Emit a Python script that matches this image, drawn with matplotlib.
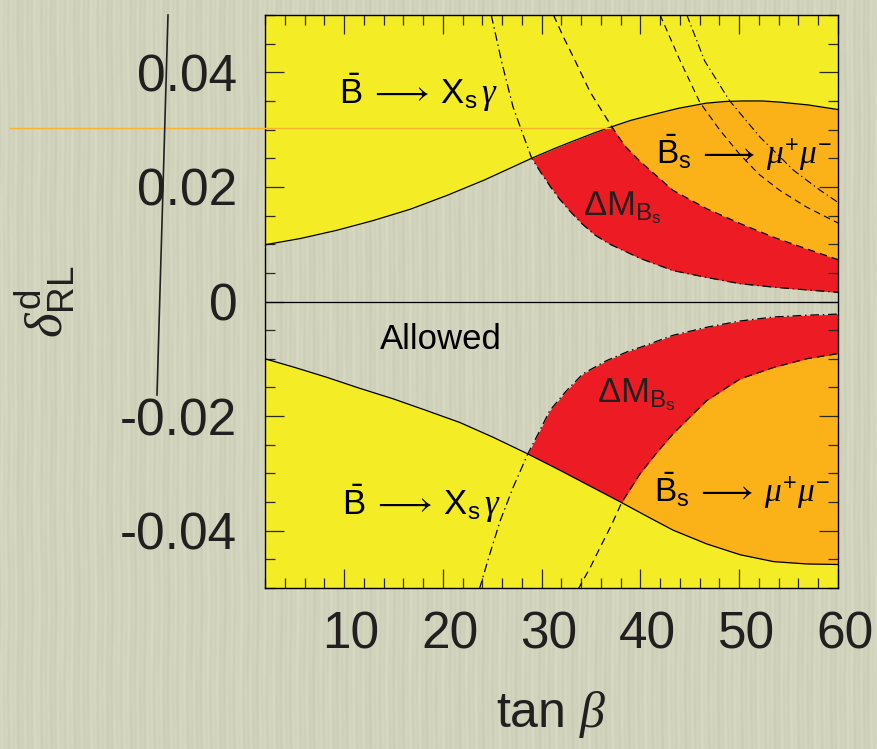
import numpy as np
import matplotlib.pyplot as plt
import matplotlib.transforms as mtransforms
from matplotlib.lines import Line2D
from matplotlib.ticker import MultipleLocator

plt.rcParams['font.family'] = ['Liberation Sans', 'DejaVu Sans']
plt.rcParams['mathtext.fontset'] = 'custom'
plt.rcParams['mathtext.rm'] = 'Liberation Sans'
plt.rcParams['mathtext.it'] = 'Liberation Serif:italic'
plt.rcParams['mathtext.bf'] = 'Liberation Sans:bold'
plt.rcParams['mathtext.fallback'] = 'stix'

# --- curves (tan beta, delta_RL^d) ---
# B -> Xs gamma bound, upper half (solid)
tanb_su = [2.0, 5.6, 9.2, 12.9, 16.7, 20.4, 24.2, 26.6, 29.0, 31.3, 33.5, 35.3, 37.1,
           39.0, 41.0, 43.8, 46.6, 48.5, 50.4, 52.3, 54.1, 57.0, 60.0]
delta_su = [0.0099, 0.0110, 0.0124, 0.0141, 0.0161, 0.0185, 0.0212, 0.0231, 0.0250,
            0.0267, 0.0282, 0.0294, 0.0305, 0.0316, 0.0325, 0.0337, 0.0346, 0.0349,
            0.0350, 0.0350, 0.0348, 0.0343, 0.0335]
# B -> Xs gamma bound, lower half (solid)
tanb_sl = [2, 5, 8.2, 11.5, 15, 18.3, 21.7, 25.1, 28.6, 31.8, 35, 38.1, 41, 43.3,
           46.7, 50.1, 53.5, 56.8, 60]
delta_sl = [-0.0100, -0.0115, -0.0132, -0.0151, -0.0170, -0.0190, -0.0211, -0.0237,
            -0.0266, -0.0294, -0.0323, -0.0351, -0.0378, -0.0399, -0.0423, -0.0442,
            -0.0454, -0.0458, -0.0459]
# Delta M_Bs bound, dash-dot, upper half
tanb_au = [24.9, 26.0, 27.1, 28.1, 29.0, 30.0, 30.9, 31.8, 32.8, 34.0, 35.4, 36.9,
           38.4, 40.0, 43.3, 46.7, 50.1, 53.5, 57.0, 60.0]
delta_au = [0.0500, 0.0415, 0.0340, 0.0292, 0.0250, 0.0223, 0.0200, 0.0179, 0.0159,
            0.0137, 0.0116, 0.0100, 0.0088, 0.0075, 0.0054, 0.0042, 0.0031, 0.0025,
            0.0020, 0.0016]
# Delta M_Bs bound, dashed, upper half
tanb_bu = [31.2, 32.2, 33.2, 34.9, 37.1, 38.4, 40.0, 43.3, 46.7, 50.1, 53.5, 56.8, 60.0]
delta_bu = [0.0500, 0.0462, 0.0427, 0.0366, 0.0305, 0.0272, 0.0244, 0.0194, 0.0162,
            0.0136, 0.0112, 0.0092, 0.0073]
# Delta M_Bs bound, dash-dot, lower half
tanb_al = [23.7, 24.75, 25.8, 27.1, 28.6, 29.8, 30.8, 32.5, 34.2, 36.6, 38.9, 40.0,
           43.3, 46.7, 50.1, 53.5, 56.8, 60.0]
delta_al = [-0.0502, -0.0441, -0.0383, -0.0325, -0.0266, -0.0226, -0.0191, -0.0156,
            -0.0126, -0.0103, -0.0086, -0.0080, -0.0059, -0.0045, -0.0034, -0.0027,
            -0.0024, -0.0022]
# Delta M_Bs bound, dashed, lower half
tanb_bl = [33.7, 34.9, 35.9, 37.1, 38.1, 39.95, 41.6, 43.3, 46.7, 50.1, 53.5, 56.8, 60.0]
delta_bl = [-0.0502, -0.0465, -0.0430, -0.0389, -0.0351, -0.0301, -0.0265, -0.0231,
            -0.0173, -0.0135, -0.0115, -0.0100, -0.0091]
# Bs -> mu mu curves, upper right
tanb_c = [42.0, 44.0, 46.0, 48.0, 50.0, 52.0, 54.1, 56.8, 60.0]
delta_c = [0.0500, 0.0421, 0.0348, 0.0300, 0.0258, 0.0222, 0.0194, 0.0165, 0.0137]
tanb_d = [44.7, 46.5, 49.0, 52.1, 55.5, 58.2, 60.0]
delta_d = [0.0500, 0.0420, 0.0351, 0.0287, 0.0229, 0.0194, 0.0173]

xtick_vals = [10, 20, 30, 40, 50, 60]
xtick_labels = ['10', '20', '30', '40', '50', '60']
ytick_vals = [-0.04, -0.02, 0, 0.02, 0.04]
ytick_labels = ['-0.04', '-0.02', '0', '0.02', '0.04']

bg = '#d3d4bc'
yellow = '#f4ec24'
red = '#ed1c24'
orange = '#fbb218'

W, H = 877, 749
fig = plt.figure(figsize=(W / 100, H / 100), dpi=100)
fig.patch.set_facecolor(bg)

# paper-like vertical streaks behind everything
yy, xx = np.mgrid[0:H, 0:W]
streak = (3 * np.sin(2 * np.pi * xx / 4.7 + 0.6 * np.sin(2 * np.pi * yy / 160))
          + 2.5 * np.sin(2 * np.pi * xx / 11.3 + 0.8 * np.sin(2 * np.pi * yy / 230 + 1.0))
          + 1.5 * np.sin(2 * np.pi * xx / 29.0 + 0.4 * np.sin(2 * np.pi * yy / 90)))
base = np.array([210, 211, 188], dtype=float)
tex = np.clip(base[None, None, :] + streak[..., None], 0, 255) / 255
fig.figimage(tex, zorder=-1)

ax = fig.add_axes([265 / W, 161 / H, 573 / W, 573 / H])
ax.set_facecolor('none')

grid = np.linspace(2, 60, 1200)
def on_grid(xs, ys):
    return np.interp(grid, xs, ys, left=np.nan, right=np.nan)

su, sl = on_grid(tanb_su, delta_su), on_grid(tanb_sl, delta_sl)
au, bu = on_grid(tanb_au, delta_au), on_grid(tanb_bu, delta_bu)
al, bl = on_grid(tanb_al, delta_al), on_grid(tanb_bl, delta_bl)

# upper half
ax.fill_between(grid, au, su, where=au < su, interpolate=True, color=red, lw=0)
ax.fill_between(grid, bu, su, where=bu < su, interpolate=True, color=orange, lw=0)
ax.fill_between(tanb_su, delta_su, 0.05, color=yellow, lw=0)
# lower half
ax.fill_between(grid, sl, al, where=al > sl, interpolate=True, color=red, lw=0)
ax.fill_between(grid, sl, bl, where=bl > sl, interpolate=True, color=orange, lw=0)
ax.fill_between(tanb_sl, -0.05, delta_sl, color=yellow, lw=0)

dashdot = (0, (7, 3, 1.2, 3))
dashed = (0, (6, 4))
ax.plot(tanb_su, delta_su, color='k', lw=0.9)
ax.plot(tanb_sl, delta_sl, color='k', lw=0.9)
ax.plot(tanb_au, delta_au, color='k', lw=0.9, ls=dashdot)
ax.plot(tanb_al, delta_al, color='k', lw=0.9, ls=dashdot)
ax.plot(tanb_bu, delta_bu, color='k', lw=0.9, ls=dashed)
ax.plot(tanb_bl, delta_bl, color='k', lw=0.9, ls=dashed)
ax.plot(tanb_c, delta_c, color='k', lw=0.8, ls=dashed)
ax.plot(tanb_d, delta_d, color='k', lw=0.8, ls=dashdot)
ax.axhline(0, color='k', lw=0.9)

ax.set_xlim(2, 60)
ax.set_ylim(-0.05, 0.05)
ax.set_xticks(xtick_vals, xtick_labels)
ax.set_yticks(ytick_vals, ytick_labels)
ax.xaxis.set_minor_locator(MultipleLocator(2))
ax.yaxis.set_minor_locator(MultipleLocator(0.005))
ax.tick_params(which='both', direction='in', top=True, right=True, color='#2a2a20',
               labelcolor='#231f20', labelsize=37)
ax.tick_params(which='major', length=14, width=0.9)
ax.tick_params(which='minor', length=7, width=0.9)
ax.tick_params(axis='x', pad=16)
ax.tick_params(axis='y', pad=20)
shift = mtransforms.ScaledTranslation(0.07, 0, fig.dpi_scale_trans)
for lab in ax.get_xticklabels():
    lab.set_transform(lab.get_transform() + shift)
for s in ax.spines.values():
    s.set_linewidth(1.0)

ax.set_xlabel(r'tan $\beta$', fontsize=36, color='#231f20')
ax.xaxis.label.set_va('center')
ax.xaxis.set_label_coords(0.5, (588 - 715) / 573)
ax.set_ylabel(r'$\delta^{\mathrm{d}}_{\mathrm{RL}}$', fontsize=38, color='#231f20')
ax.yaxis.label.set_va('center')
ax.yaxis.set_label_coords((45 - 265) / 573, 0.5)

xsg = r'$\bar{\mathrm{B}}\;\longrightarrow\;\mathrm{X}_{\mathrm{s}}\,\gamma$'
dmb = r'$\Delta\mathrm{M}_{\mathrm{B}_{\mathrm{s}}}$'
bmm = r'$\bar{\mathrm{B}}_{\mathrm{s}}\;\longrightarrow\;\mu^{+}\mu^{-}$'
ax.text(17.5, 0.0364, xsg, fontsize=25, ha='center', va='center')
ax.text(17.8, -0.0353, xsg, fontsize=25, ha='center', va='center')
ax.text(38.2, 0.0164, dmb, fontsize=25, ha='center', va='center', color='#231f20')
ax.text(39.6, -0.0163, dmb, fontsize=25, ha='center', va='center', color='#231f20')
ax.text(50.5, 0.0259, bmm, fontsize=24, ha='center', va='center')
ax.text(50.3, -0.0330, bmm, fontsize=24, ha='center', va='center')
ax.text(19.8, -0.0066, 'Allowed', fontsize=25, ha='center', va='center')

# stray marks on the slide
fig.add_artist(Line2D([10 / W, 610 / W], [1 - 128 / H, 1 - 128 / H], color='#f7b52c', lw=1.0))
fig.add_artist(Line2D([168 / W, 157 / W], [1 - 15 / H, 1 - 395 / H], color='#222222', lw=1.2))

fig.savefig('out.png', dpi=100, facecolor=bg)
